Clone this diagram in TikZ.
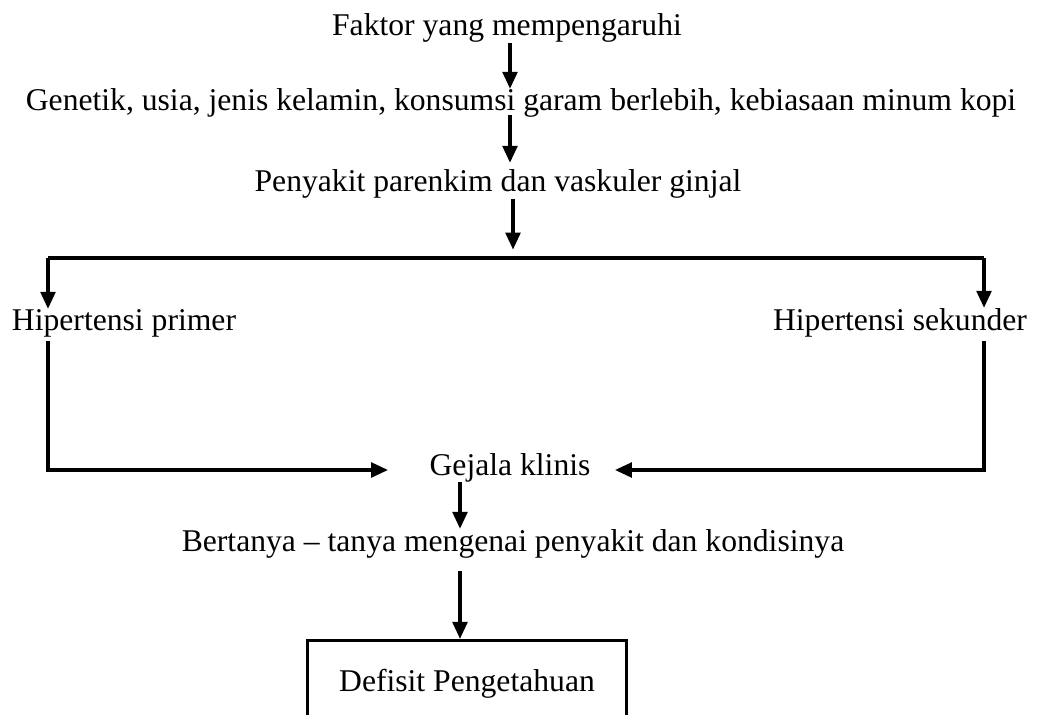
\documentclass[tikz,border=0pt]{standalone}
\usepackage{fontspec}
\setmainfont{Liberation Serif}
\usetikzlibrary{arrows.meta, positioning}

\begin{document}
\begin{tikzpicture}[x=0.025cm, y=-0.025cm,
                txt/.style={inner sep=0pt, anchor=base, font=\fontsize{22.5}{27}\selectfont},
                box/.style={draw, line width=2pt, minimum width=7.975cm, minimum height=2.15cm, align=center},
                link/.style={line width=2.2pt},
                arr/.style={link, -{Triangle[length=12pt, width=10.5pt]}}]
                \useasboundingbox (0,0) rectangle (1037,715);

                \node[txt] (faktor) at (507,36) {Faktor yang mempengaruhi};
                \node[txt] (genetik) at (521,111) {Genetik, usia, jenis kelamin, konsumsi garam berlebih, kebiasaan minum kopi};
                \node[txt] (penyakit) at (498,192) {Penyakit parenkim dan vaskuler ginjal};
                \node[txt] (primer) at (124,330) {Hipertensi primer};
                \node[txt] (sekunder) at (900,330) {Hipertensi sekunder};
                \node[txt] (gejala) at (510,475) {Gejala klinis};
                \node[txt] (bertanya) at (513,551) {Bertanya – tanya mengenai penyakit dan kondisinya};
                \node[box, txt] (defisit) at (467,691) {Defisit Pengetahuan};

                \coordinate (colA) at (510,0);
                \coordinate (colB) at (513,0);
                \coordinate (colC) at (460,0);
                \coordinate (split) at (513,258);
                \coordinate (splitL) at (48,258);
                \coordinate (splitR) at (984,258);
                \coordinate (cornerL) at (48,470);
                \coordinate (cornerR) at (984,470);
                \coordinate (inL) at (388,470);
                \coordinate (inR) at (615,470);

                \draw[arr] (faktor.south -| colA) -- (genetik.north -| colA);
                \draw[arr, shorten >=5pt] ([yshift=2pt]genetik.south -| colA) -- (penyakit.north -| colA);
                \draw[arr] (penyakit.south -| colB) -- ([yshift=6pt]split);
                \draw[link] (splitL) -- (splitR);
                \draw[arr] (splitL) -- (primer.north -| splitL);
                \draw[arr] (splitR) -- (sekunder.north -| splitR);
                \draw[arr] ([yshift=-3pt]primer.south -| cornerL) -- (cornerL) -- (inL);
                \draw[arr] ([yshift=-3pt]sekunder.south -| cornerR) -- (cornerR) -- (inR);
                \draw[arr] (gejala.south -| colC) -- (bertanya.north -| colC);
                \draw[arr] ([yshift=-9pt]bertanya.south -| colC) -- (defisit.north -| colC);
            \end{tikzpicture}
\end{document}
